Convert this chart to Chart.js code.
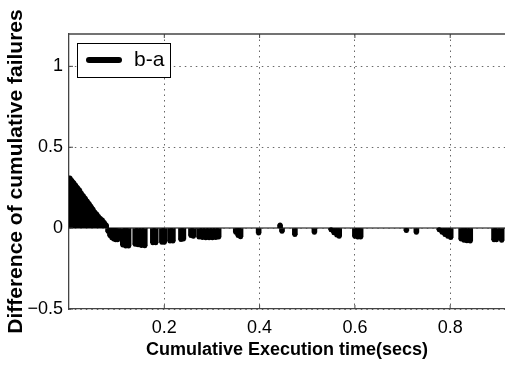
<!DOCTYPE html>
<html>
<head>
<meta charset="utf-8">
<script src="https://cdn.jsdelivr.net/npm/chart.js@4.4.1/dist/chart.umd.min.js"></script>
<style>
  html, body { margin: 0; padding: 0; background: #ffffff; }
  #wrap { width: 505px; height: 365px; position: relative; }
</style>
</head>
<body>
<div id="wrap"><canvas id="c" width="505" height="365"></canvas></div>
<script>
// Execution times (secs) at which the failure counts differ
const times = [
  0.002, 0.006, 0.010, 0.014, 0.018, 0.022, 0.026, 0.030, 0.034, 0.038,
  0.042, 0.046, 0.050, 0.054, 0.058, 0.062, 0.066, 0.070, 0.074, 0.078,
  0.082, 0.086, 0.090, 0.094, 0.098, 0.102, 0.113, 0.119, 0.125, 0.139,
  0.145, 0.152, 0.159, 0.176, 0.182, 0.195, 0.200, 0.212, 0.218, 0.235,
  0.240, 0.256, 0.261, 0.273, 0.280, 0.287, 0.294, 0.301, 0.308, 0.314,
  0.350, 0.355, 0.360, 0.398, 0.443, 0.447, 0.474, 0.515, 0.550, 0.556,
  0.562, 0.567, 0.600, 0.606, 0.612, 0.708, 0.729, 0.777, 0.783, 0.789,
  0.795, 0.801, 0.823, 0.829, 0.835, 0.842, 0.892, 0.897, 0.908
];
// Difference of cumulative failures (b - a) at each of those times
const diffs = [
  0.310, 0.295, 0.280, 0.265, 0.250, 0.235, 0.215, 0.200, 0.185, 0.168,
  0.152, 0.135, 0.118, 0.100, 0.088, 0.072, 0.060, 0.050, 0.035, 0.020,
  -0.020, -0.045, -0.060, -0.068, -0.072, -0.072, -0.105, -0.110, -0.110, -0.100,
  -0.103, -0.108, -0.109, -0.090, -0.090, -0.087, -0.087, -0.080, -0.080, -0.070,
  -0.068, -0.045, -0.050, -0.055, -0.058, -0.060, -0.060, -0.060, -0.058, -0.055,
  -0.025, -0.045, -0.053, -0.030, 0.020, -0.020, -0.040, -0.025, -0.010, -0.028,
  -0.042, -0.050, -0.050, -0.055, -0.055, -0.015, -0.025, -0.010, -0.025, -0.040,
  -0.050, -0.058, -0.068, -0.075, -0.078, -0.080, -0.072, -0.072, -0.075
];
const seriesLabel = 'b-a';
const xTicks = [0.2, 0.4, 0.6, 0.8];
const yTicks = [-0.5, 0, 0.5, 1];
const xRange = [0, 0.915];
const yRange = [-0.5, 1.2];
const baseline = [0, 0];

const points = times.map((t, i) => ({ x: t, y: diffs[i] }));
const FONT = 'Liberation Sans, Arial, Helvetica, sans-serif';

function fmtTick(v) {
  return (v < 0 ? '\u2212' : '') + String(Math.abs(v));
}

// Top frame edge, inward tick marks and the boxed legend
const framePlugin = {
  id: 'frame',
  afterDraw(chart) {
    const { ctx, chartArea: a, scales } = chart;
    ctx.save();
    ctx.strokeStyle = '#444';
    ctx.lineWidth = 1.3;
    ctx.beginPath();
    ctx.moveTo(a.left, a.top);
    ctx.lineTo(a.right, a.top);
    ctx.stroke();
    ctx.lineWidth = 1;
    ctx.beginPath();
    xTicks.forEach(v => {
      const px = scales.x.getPixelForValue(v);
      ctx.moveTo(px, a.bottom); ctx.lineTo(px, a.bottom - 4);
      ctx.moveTo(px, a.top); ctx.lineTo(px, a.top + 4);
    });
    yTicks.forEach(v => {
      const py = scales.y.getPixelForValue(v);
      ctx.moveTo(a.left, py); ctx.lineTo(a.left + 4, py);
    });
    ctx.stroke();

    // legend box
    const bx = a.left + 8, by = a.top + 9, bw = 93, bh = 34;
    ctx.fillStyle = '#fff';
    ctx.fillRect(bx, by, bw, bh);
    ctx.strokeStyle = '#000';
    ctx.lineWidth = 1;
    ctx.strokeRect(bx + 0.5, by + 0.5, bw, bh);
    ctx.lineCap = 'round';
    ctx.lineWidth = 6;
    ctx.beginPath();
    ctx.moveTo(bx + 12, by + 17);
    ctx.lineTo(bx + 42, by + 17);
    ctx.stroke();
    ctx.fillStyle = '#000';
    ctx.font = '21px ' + FONT;
    ctx.textBaseline = 'middle';
    ctx.textAlign = 'left';
    ctx.fillText(chart.data.datasets[0].label, bx + 57, by + 17);
    ctx.restore();
  }
};

new Chart(document.getElementById('c'), {
  type: 'bar',
  data: {
    datasets: [
      {
        type: 'bar',
        label: seriesLabel,
        data: points,
        backgroundColor: '#000',
        borderWidth: 0,
        barThickness: 5,
        grouped: false,
        order: 1
      },
      {
        type: 'line',
        label: 'tips',
        data: points,
        showLine: false,
        pointRadius: 2.5,
        pointBackgroundColor: '#000',
        pointBorderWidth: 0,
        order: 0
      },
      {
        type: 'line',
        label: 'zero',
        data: xRange.map((x, i) => ({ x: x, y: baseline[i] })),
        borderColor: '#555',
        borderWidth: 1.5,
        pointRadius: 0,
        order: 2
      }
    ]
  },
  options: {
    responsive: false,
    devicePixelRatio: 1,
    animation: false,
    layout: { autoPadding: false, padding: { top: 34, right: 0, left: 0, bottom: 0 } },
    plugins: { legend: { display: false }, tooltip: { enabled: false } },
    scales: {
      x: {
        type: 'linear',
        min: xRange[0],
        max: xRange[1],
        offset: false,
        afterFit(s) { s.height = 56; },
        afterBuildTicks(s) { s.ticks = xTicks.map(v => ({ value: v })); },
        grid: { color: '#666', lineWidth: 1, drawTicks: false, offset: false },
        border: { display: true, color: '#444', width: 1.3, dash: [1.5, 4] },
        ticks: {
          color: '#000',
          padding: 8,
          maxRotation: 0,
          font: { family: FONT, size: 18 },
          callback: v => fmtTick(v)
        },
        title: {
          display: true,
          text: 'Cumulative Execution time(secs)',
          color: '#000',
          font: { family: FONT, size: 18, weight: 'bold' },
          padding: { top: 0, bottom: 4 }
        }
      },
      y: {
        type: 'linear',
        min: yRange[0],
        max: yRange[1],
        afterFit(s) { s.width = 69; },
        afterBuildTicks(s) { s.ticks = yTicks.map(v => ({ value: v })); },
        grid: { color: '#666', lineWidth: 1, drawTicks: false },
        border: { display: true, color: '#444', width: 1.3, dash: [1.5, 4] },
        ticks: {
          color: '#000',
          padding: 6,
          font: { family: FONT, size: 18 },
          callback: v => fmtTick(v)
        },
        title: {
          display: true,
          text: 'Difference of cumulative failures',
          color: '#000',
          font: { family: FONT, size: 21, weight: 'bold' },
          padding: { top: 4, bottom: 0 }
        }
      }
    }
  },
  plugins: [framePlugin]
});
</script>
</body>
</html>
